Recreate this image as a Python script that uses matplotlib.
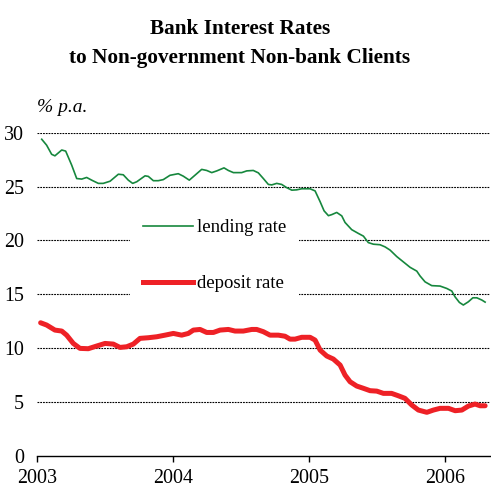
import matplotlib
matplotlib.use("Agg")
import matplotlib.pyplot as plt
from matplotlib.lines import Line2D

plt.rcParams['font.family'] = ['Liberation Serif', 'DejaVu Serif']

lending_t = [2003.037, 2003.073, 2003.110, 2003.134, 2003.184, 2003.213, 2003.257, 2003.294,
             2003.331, 2003.367, 2003.404, 2003.453, 2003.489, 2003.539, 2003.600, 2003.636,
             2003.673, 2003.705, 2003.735, 2003.796, 2003.820, 2003.857, 2003.893, 2003.930,
             2003.979, 2004.040, 2004.077, 2004.121, 2004.163, 2004.212, 2004.249, 2004.286,
             2004.323, 2004.376, 2004.408, 2004.445, 2004.506, 2004.543, 2004.591, 2004.628,
             2004.665, 2004.702, 2004.727, 2004.763, 2004.800, 2004.837, 2004.874, 2004.910,
             2004.947, 2005.008, 2005.045, 2005.082, 2005.111, 2005.143, 2005.168, 2005.204,
             2005.241, 2005.265, 2005.314, 2005.363, 2005.400, 2005.436, 2005.473, 2005.522,
             2005.559, 2005.596, 2005.645, 2005.694, 2005.743, 2005.792, 2005.816, 2005.853,
             2005.902, 2005.963, 2006.012, 2006.049, 2006.073, 2006.105, 2006.134, 2006.171,
             2006.204, 2006.233, 2006.270, 2006.294]
lending_v = [29.4, 28.85, 28.0, 27.86, 28.4, 28.3, 27.0, 25.75,
             25.7, 25.85, 25.6, 25.3, 25.3, 25.5, 26.15, 26.1,
             25.6, 25.3, 25.45, 26.0, 25.95, 25.55, 25.55, 25.65,
             26.05, 26.2, 25.97, 25.6, 26.06, 26.6, 26.5, 26.3,
             26.46, 26.74, 26.5, 26.3, 26.3, 26.46, 26.5, 26.28,
             25.75, 25.2, 25.16, 25.3, 25.2, 24.9, 24.67, 24.7,
             24.8, 24.8, 24.6, 23.6, 22.75, 22.3, 22.4, 22.6,
             22.28, 21.67, 21.0, 20.65, 20.4, 19.8, 19.65, 19.6,
             19.4, 19.1, 18.5, 18.0, 17.5, 17.15, 16.7, 16.15,
             15.8, 15.76, 15.54, 15.3, 14.76, 14.24, 14.0, 14.3,
             14.67, 14.67, 14.46, 14.27]

deposit_t = [2003.029, 2003.073, 2003.134, 2003.184, 2003.220, 2003.269, 2003.318, 2003.379,
             2003.441, 2003.502, 2003.563, 2003.612, 2003.661, 2003.710, 2003.759, 2003.820,
             2003.882, 2003.943, 2004.004, 2004.065, 2004.114, 2004.151, 2004.200, 2004.249,
             2004.298, 2004.347, 2004.408, 2004.457, 2004.518, 2004.580, 2004.616, 2004.665,
             2004.714, 2004.775, 2004.824, 2004.861, 2004.898, 2004.947, 2005.008, 2005.045,
             2005.082, 2005.131, 2005.179, 2005.229, 2005.265, 2005.302, 2005.351, 2005.400,
             2005.449, 2005.498, 2005.547, 2005.607, 2005.656, 2005.705, 2005.755, 2005.804,
             2005.866, 2005.914, 2005.963, 2006.025, 2006.074, 2006.123, 2006.171, 2006.220,
             2006.257, 2006.294]
deposit_v = [12.35, 12.14, 11.67, 11.58, 11.2, 10.43, 9.97, 9.94,
             10.19, 10.43, 10.37, 10.06, 10.12, 10.37, 10.9, 10.96,
             11.05, 11.2, 11.36, 11.2, 11.36, 11.67, 11.73, 11.45,
             11.45, 11.67, 11.73, 11.58, 11.58, 11.73, 11.73, 11.52,
             11.2, 11.2, 11.1, 10.83, 10.83, 11.0, 11.0, 10.74,
             9.81, 9.26, 8.98, 8.42, 7.49, 6.87, 6.47, 6.26,
             6.04, 6.0, 5.79, 5.79, 5.57, 5.33, 4.71, 4.24,
             4.03, 4.24, 4.4, 4.4, 4.18, 4.24, 4.61, 4.8,
             4.64, 4.64]

year_ticks = [2003, 2004, 2005, 2006]
year_labels = ['2003', '2004', '2005', '2006']
y_ticks = [0, 5, 10, 15, 20, 25, 30]

title_text = "Bank Interest Rates\nto Non-government Non-bank Clients"
unit_text = "% p.a."
series_names = ['lending rate', 'deposit rate']

green = '#16873d'
red = '#ee2126'

fig = plt.figure(figsize=(4.91, 4.90), dpi=100)
ax = fig.add_axes([0.0747, 0.070, 0.9233, 0.659])

ax.plot(lending_t, lending_v, color=green, lw=1.2, zorder=3)
ax.plot(deposit_t, deposit_v, color=red, lw=3.6, solid_capstyle='round',
        solid_joinstyle='round', zorder=3)

ax.set_xlim(2003, 2006.33)
ax.set_ylim(0, 30)
ax.set_xticks(year_ticks)
ax.set_xticklabels(year_labels)
ax.set_yticks(y_ticks)
ax.set_yticklabels([str(v) for v in y_ticks])

for v in y_ticks[1:]:
    ax.axhline(v, color='black', lw=0.8, ls=(0, (1.6, 0.9)), zorder=1)

for s in ['left', 'top', 'right']:
    ax.spines[s].set_visible(False)
ax.spines['bottom'].set_linewidth(1.0)
ax.tick_params(axis='y', length=0, pad=9, labelsize=14.4)
ax.tick_params(axis='x', direction='out', length=4.3, width=1.0, pad=5.5, labelsize=14.4)

handles = [Line2D([], [], color=green, lw=1.2),
           Line2D([], [], color=red, lw=3.6)]
leg = ax.legend(handles, series_names, loc='upper left', bbox_to_anchor=(0.206, 0.773),
                borderaxespad=0, frameon=True, fancybox=False, framealpha=1,
                facecolor='white', edgecolor='none', fontsize=13.5,
                handlelength=2.67, handletextpad=0.2, labelspacing=2.08, borderpad=0.7)
leg.set_zorder(5)

fig.text(240 / 491, 1 - 43.5 / 490, title_text, ha='center', va='center',
         fontsize=15.3, fontweight='bold', linespacing=1.66)
fig.text(37 / 491, 1 - 107 / 490, unit_text, ha='left', va='center',
         fontsize=14, style='italic')

fig.savefig('out.png', dpi=100)
